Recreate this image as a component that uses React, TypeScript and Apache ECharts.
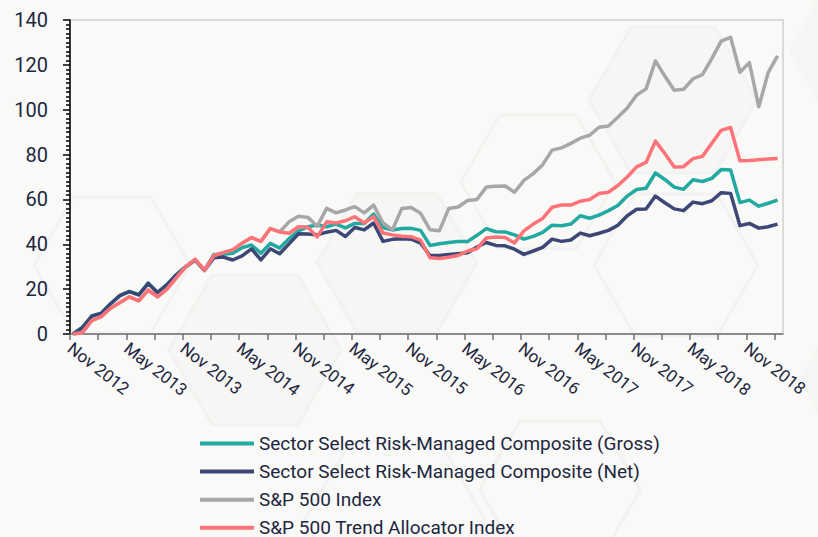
import React, { useEffect, useRef } from "react";
import * as echarts from "echarts";

// Monthly observations, Nov 2012 (inception, 0) through Feb 2019 — cumulative return, %
const tickLabels = [
  "Nov 2012", "May 2013", "Nov 2013", "May 2014", "Nov 2014", "May 2015", "Nov 2015",
  "May 2016", "Nov 2016", "May 2017", "Nov 2017", "May 2018", "Nov 2018",
];

const grossValues = [
  0, 3, 8, 9.3, 13.5, 17, 19, 17.5, 22.8, 18.5,
  22, 26.5, 30, 33, 28.5, 35.5, 35.5, 36, 38.5, 39.7,
  36, 40.4, 38.3, 42.5, 46, 47.8, 48.6, 47.8, 49, 47.3,
  49.3, 49.3, 53.5, 47.5, 46.4, 47, 47.1, 46.2, 39.5, 40.2,
  40.8, 41.2, 41.2, 44, 47, 45.6, 45.5, 44.2, 42.3, 43.5,
  45.3, 48.5, 48.3, 49, 52.7, 51.6, 53, 55, 57.3, 61.5,
  64.4, 65, 71.8, 68.9, 65.5, 64.5, 68.8, 68, 69.4, 73.3,
  73.1, 58.6, 59.7, 57, 58.3, 59.7,
];

const netValues = [
  0, 2.8, 8, 9.2, 13.5, 17.2, 18.9, 17.4, 22.5, 18.5,
  22, 26.3, 30, 33, 28.3, 34, 34.3, 33, 34.8, 38,
  33, 38, 35.8, 40.2, 44.7, 44.6, 44.2, 45.4, 46.2, 43.5,
  47.5, 46.4, 49.5, 41.3, 42.2, 42.5, 42.3, 40.5, 35, 35,
  35.4, 35.8, 36.2, 38.8, 40.8, 39.5, 39.3, 37.8, 35.5, 37,
  38.6, 42.3, 41.3, 41.9, 45, 43.8, 44.9, 46.2, 48.5, 52.7,
  55.6, 55.7, 61.5, 58.5, 55.8, 55, 58.8, 58.1, 59.4, 63,
  62.7, 48.3, 49.3, 47.2, 47.8, 49,
];

const sp500Values = [
  0, 0.6, 6, 7.7, 11.5, 14, 16.6, 14.8, 19.6, 16.6,
  20, 25, 30, 33.3, 28.5, 35, 36.3, 37.5, 40.5, 43,
  41.3, 47, 45.5, 50, 52.5, 52, 48, 56, 54, 55.3,
  56.8, 54, 57.5, 49.5, 46.4, 56, 56.4, 53.8, 46.5, 46,
  56, 56.6, 59.5, 60, 65.5, 65.9, 66, 63.2, 68.5, 71.5,
  75.5, 82, 83, 85, 87.3, 88.6, 92.2, 92.7, 96.6, 100.8,
  106.5, 109.3, 121.8, 115, 108.7, 109.1, 113.8, 115.6, 122.8, 130.6,
  132.3, 116.7, 121, 101.3, 116.5, 124,
];

const trendValues = [
  0, 0.6, 6, 7.7, 11.5, 14, 16.6, 14.8, 19.6, 16.6,
  20, 25, 30, 33.3, 28.5, 35, 36.3, 37.5, 40.5, 43,
  41.3, 47, 45.5, 44.9, 47.8, 47.6, 43.3, 50, 49.5, 50.5,
  52.3, 49.5, 52.3, 45, 44.2, 43.6, 43.4, 41.9, 34, 33.7,
  34.2, 35, 37, 38, 42.8, 43.2, 43, 40.6, 46, 49,
  51.5, 56.5, 57.5, 57.5, 59.2, 60, 62.6, 63.2, 66.2, 70,
  74.5, 76.5, 86, 80.5, 74.5, 74.6, 78.2, 79.2, 85, 90.8,
  92.1, 77.2, 77.4, 77.7, 78, 78.3,
];

const seriesNames = [
  "Sector Select Risk-Managed Composite (Gross)",
  "Sector Select Risk-Managed Composite (Net)",
  "S&P 500 Index",
  "S&P 500 Trend Allocator Index",
];
const seriesColors = ["#22a9a1", "#3c4775", "#a7a7a7", "#fd7377"];

// month-end observations sit slightly after the month tick
const MONTH_OFFSET = 0.32;
const toPoints = (vals: number[]) => vals.map((v, i) => [i + MONTH_OFFSET, v]);

function hex(cx: number, cy: number, r: number, fill: string, stroke: string) {
  const pts: number[][] = [];
  for (let k = 0; k < 6; k++) {
    const a = (Math.PI / 3) * k;
    pts.push([cx + r * Math.cos(a), cy + r * Math.sin(a)]);
  }
  return {
    type: "polygon",
    silent: true,
    z: -10,
    zlevel: 0,
    shape: { points: pts },
    style: { fill, stroke, lineWidth: 3 },
  };
}

export default function App() {
  const ref = useRef<HTMLDivElement>(null);
  useEffect(() => {
    if (!ref.current) return;
    const chart = echarts.init(ref.current, null, { renderer: "svg" });
    const allData = [grossValues, netValues, sp500Values, trendValues];
    const xTicks: number[] = [];
    for (let v = 0; v <= 75; v += 3) xTicks.push(v);
    const xLabels: number[] = [];
    for (let v = 0; v <= 72; v += 6) xLabels.push(v);

    const none = "rgba(0,0,0,0)";
    const line = "#f2f2f0";
    const fill = "#f6f6f4";

    chart.setOption({
      animation: false,
      backgroundColor: "#f9f9f7",
      textStyle: { fontFamily: "Roboto" },
      graphic: [
        hex(112, 265, 78, none, line),
        hex(255, 350, 86, fill, line),
        hex(397, 263, 80, fill, line),
        hex(673, 100, 84, fill, line),
        hex(676, 265, 82, none, line),
        hex(538, 182, 77, none, line),
        hex(395, 520, 90, none, line),
        hex(560, 490, 80, none, line),
        hex(880, 50, 90, "#f5f5f3", "#f5f5f3"),
        hex(890, 380, 90, "#f5f5f3", "#f5f5f3"),
      ],
      grid: {
        left: 70,
        right: 35,
        top: 20,
        bottom: 203,
        show: true,
        borderColor: "#cfcfcf",
        borderWidth: 1.5,
        backgroundColor: "transparent",
      },
      legend: {
        type: "plain",
        orient: "vertical",
        left: 200,
        top: 434,
        height: 120,
        padding: 0,
        icon: "rect",
        itemWidth: 54,
        itemHeight: 4,
        itemGap: 9.1,
        data: seriesNames,
        textStyle: { fontSize: 19, color: "#1e2740", fontFamily: "Roboto" },
      },
      xAxis: {
        type: "value",
        min: 0,
        max: 75.9,
        splitLine: { show: false },
        axisLine: { show: true, onZero: false, lineStyle: { color: "#707070", width: 1.5 } },
        axisTick: {
          show: true,
          customValues: xTicks,
          length: 6,
          lineStyle: { color: "#707070", width: 1.5 },
        },
        axisLabel: {
          customValues: xLabels,
          rotate: -38,
          margin: 12,
          fontSize: 17,
          color: "#1e2740",
          fontFamily: "Roboto",
          formatter: (v: number) => tickLabels[Math.round(v / 6)] ?? "",
        },
      },
      yAxis: {
        type: "value",
        min: 0,
        max: 140,
        interval: 20,
        splitLine: { show: false },
        axisLine: { show: true, lineStyle: { color: "#000", width: 1.5 } },
        axisTick: { show: true, length: 7, lineStyle: { color: "#000", width: 1.5 } },
        minorTick: { show: true, splitNumber: 10, length: 4, lineStyle: { color: "#000", width: 1.5 } },
        axisLabel: { fontSize: 20, color: "#1e2740", margin: 22, fontFamily: "Roboto" },
      },
      series: seriesNames.map((name, k) => ({
        name,
        type: "line",
        data: toPoints(allData[k]),
        symbol: "none",
        showSymbol: false,
        color: seriesColors[k],
        lineStyle: { width: 3.5, color: seriesColors[k], join: "round" },
        z: 3 + k,
      })),
    });
    return () => chart.dispose();
  }, []);
  return (
    <div
      ref={ref}
      style={{ position: "fixed", left: 0, top: 0, width: 818, height: 537 }}
    />
  );
}
